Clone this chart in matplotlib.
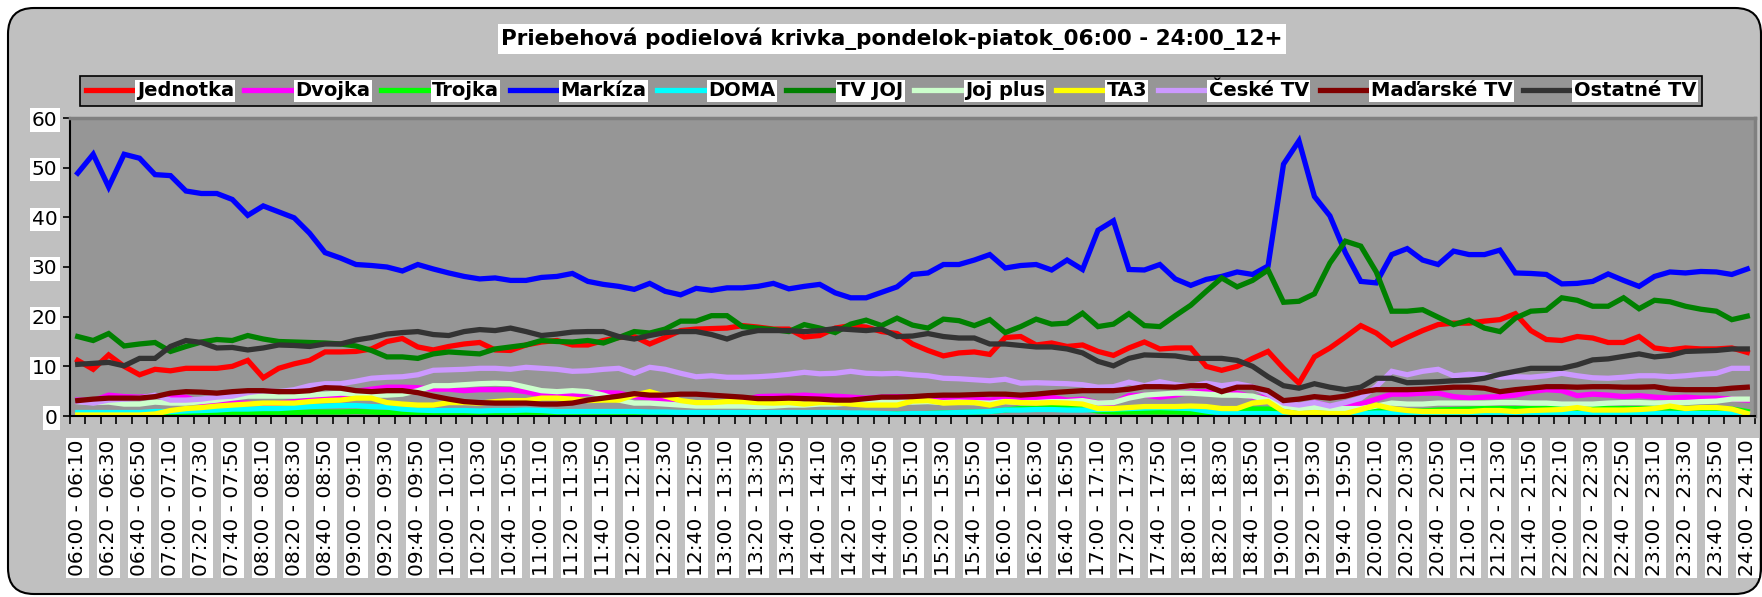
import matplotlib
matplotlib.use("Agg")
import matplotlib.pyplot as plt
from matplotlib.patches import FancyBboxPatch

W, H = 1762, 597

title = "Priebehová podielová krivka_pondelok-piatok_06:00 - 24:00_12+"

# 10-minute slots from 06:00 to 24:10
slots = []
for i in range(109):
    m = 360 + 10 * i
    slots.append("%02d:%02d - %02d:%02d" % (m // 60, m % 60, (m + 10) // 60, (m + 10) % 60))

jednotka = [11.2, 9.4, 12.3, 10.0, 8.3, 9.4, 9.1, 9.6, 9.6, 9.6, 10.0, 11.2, 7.7, 9.6, 10.5, 11.2, 12.9, 12.9, 13.0,
            13.5, 15.0, 15.6, 13.9, 13.3, 14.0, 14.5, 14.8, 13.3, 13.2, 14.3, 14.9, 15.2, 14.3, 14.3, 15.2, 15.8, 16.0,
            14.5, 15.8, 17.2, 17.5, 17.6, 17.7, 18.2, 17.9, 17.5, 17.5, 15.9, 16.2, 17.7, 18.2, 17.9, 17.0, 16.6, 14.5,
            13.2, 12.1, 12.7, 12.9, 12.4, 15.8, 16.0, 14.3, 14.7, 14.0, 14.3, 13.0, 12.2, 13.7, 14.9, 13.5, 13.7, 13.7,
            10.0, 9.2, 10.0, 11.6, 13.0, 9.6, 6.6, 11.9, 13.7, 15.9, 18.2, 16.7, 14.3, 15.8, 17.2, 18.4, 18.7, 18.7,
            19.1, 19.4, 20.6, 17.2, 15.4, 15.2, 16.0, 15.7, 14.8, 14.8, 16.0, 13.7, 13.3, 13.7, 13.5, 13.5, 13.7, 12.8]
dvojka = [3.2, 3.1, 4.2, 3.9, 3.8, 4.0, 3.8, 3.8, 2.7, 2.6, 2.6, 2.6, 2.2, 2.6, 2.9, 3.2, 3.4, 3.8, 5.0,
          5.4, 5.8, 5.8, 5.7, 5.4, 5.4, 5.1, 5.3, 5.3, 5.3, 4.9, 4.2, 4.2, 4.2, 4.6, 4.7, 4.6, 3.9,
          3.6, 3.2, 2.9, 2.6, 2.6, 2.6, 3.1, 3.9, 4.0, 4.0, 4.2, 4.0, 4.0, 3.8, 3.6, 3.8, 3.9, 3.8,
          3.4, 3.4, 3.4, 3.4, 3.2, 3.6, 3.4, 3.4, 3.8, 3.2, 3.4, 2.6, 2.6, 4.1, 4.2, 3.8, 4.2, 4.8,
          4.9, 4.4, 4.6, 3.8, 3.8, 2.6, 1.9, 2.7, 2.0, 2.2, 2.4, 3.4, 4.4, 4.4, 4.6, 4.6, 3.9, 3.6,
          3.8, 3.9, 4.2, 4.9, 5.3, 5.1, 4.1, 4.4, 4.2, 3.9, 4.1, 3.8, 3.6, 3.8, 3.6, 3.6, 3.4, 3.2]
trojka = [0.1, 0.1, 0.1, 0.1, 0.1, 0.1, 0.2, 0.3, 0.4, 0.5, 0.5, 0.6, 0.6, 0.7, 0.7, 0.8, 0.8, 0.8, 0.9,
          0.8, 0.7, 0.6, 0.6, 0.6, 0.5, 0.5, 0.5, 0.5, 0.5, 0.5, 0.5, 0.5, 0.4, 0.4, 0.4, 0.4, 0.4,
          0.4, 0.4, 0.4, 0.4, 0.4, 0.4, 0.4, 0.4, 0.4, 0.4, 0.4, 0.4, 0.4, 0.4, 0.4, 0.4, 0.4, 0.4,
          0.5, 0.6, 0.7, 0.8, 0.9, 1.2, 1.5, 1.5, 1.7, 1.7, 1.5, 1.0, 0.8, 0.8, 0.8, 0.8, 0.8, 0.7,
          0.7, 0.8, 1.2, 1.4, 1.4, 0.8, 0.5, 0.5, 0.5, 0.5, 0.8, 1.3, 1.0, 1.0, 1.0, 1.2, 1.3, 1.4,
          1.5, 1.5, 1.5, 1.5, 1.5, 1.5, 1.5, 1.5, 1.5, 1.5, 1.5, 1.6, 1.6, 1.5, 1.5, 1.5, 1.4, 0.9]
markiza = [48.9, 52.7, 46.1, 52.7, 51.9, 48.6, 48.4, 45.3, 44.8, 44.8,
           43.6, 40.4, 42.3, 41.1, 39.9, 36.8, 32.9, 31.8, 30.5, 30.3,
           30.0, 29.2, 30.5, 29.6, 28.8, 28.1, 27.6, 27.8, 27.3, 27.3,
           27.9, 28.1, 28.7, 27.1, 26.5, 26.1, 25.5, 26.7, 25.1, 24.4,
           25.7, 25.3, 25.8, 25.8, 26.1, 26.7, 25.6, 26.1, 26.5, 24.8,
           23.8, 23.8, 24.9, 26.0, 28.5, 28.8, 30.5, 30.5, 31.4, 32.5,
           29.8, 30.3, 30.5, 29.4, 31.4, 29.5, 37.4, 39.3, 29.5, 29.4,
           30.5, 27.6, 26.3, 27.5, 28.1, 29.0, 28.5, 30.2, 50.7, 55.4,
           44.2, 40.3, 32.9, 27.1, 26.8, 32.5, 33.7, 31.4, 30.5, 33.2,
           32.5, 32.5, 33.4, 28.8, 28.7, 28.5, 26.6, 26.7, 27.1, 28.6,
           27.3, 26.1, 28.1, 29.0, 28.8, 29.1, 29.0, 28.5, 29.6]
doma = [0.7, 0.7, 0.7, 0.7, 0.7, 0.9, 0.9, 1.0, 1.1, 1.2, 1.4, 1.4, 1.5, 1.5, 1.7, 1.9, 2.0, 2.1, 2.1,
        1.9, 1.8, 1.4, 1.2, 1.1, 1.1, 1.1, 1.0, 1.1, 1.1, 1.2, 1.1, 0.9, 0.9, 0.9, 0.9, 0.9, 0.9,
        0.8, 0.8, 0.7, 0.7, 0.7, 0.7, 0.7, 0.7, 0.7, 0.7, 0.7, 0.7, 0.7, 0.6, 0.6, 0.5, 0.4, 0.5,
        0.5, 0.6, 0.7, 0.8, 0.9, 1.2, 1.2, 1.3, 1.3, 1.2, 1.2, 1.3, 1.4, 1.5, 1.6, 1.7, 1.6, 1.5,
        1.0, 0.6, 0.5, 0.5, 0.5, 0.4, 0.4, 0.4, 0.4, 0.5, 0.5, 0.6, 0.6, 0.5, 0.5, 0.5, 0.5, 0.5,
        0.5, 0.5, 0.5, 0.5, 0.5, 0.5, 0.5, 0.5, 0.5, 0.5, 0.5, 0.5, 0.5, 0.5, 0.5, 0.5, 0.5, 0.4]
tv_joj = [16.0, 15.2, 16.6, 14.1, 14.5, 14.8, 13.0, 14.0, 14.9, 15.4, 15.2, 16.2, 15.5, 15.0, 14.9, 14.8, 14.7, 14.5, 14.1,
          13.2, 11.9, 11.9, 11.6, 12.5, 12.9, 12.7, 12.5, 13.5, 13.9, 14.3, 15.2, 15.0, 14.9, 15.2, 14.7, 15.8, 17.0,
          16.7, 17.5, 19.1, 19.1, 20.2, 20.2, 18.0, 17.7, 17.4, 17.0, 18.4, 17.7, 16.8, 18.5, 19.3, 18.2, 19.7, 18.3,
          17.7, 19.5, 19.2, 18.2, 19.4, 16.8, 18.0, 19.5, 18.5, 18.7, 20.7, 18.0, 18.5, 20.6, 18.2, 18.0, 20.2, 22.3,
          25.1, 27.8, 26.0, 27.3, 29.4, 22.9, 23.1, 24.6, 30.8, 35.2, 34.2, 29.0, 21.1, 21.1, 21.4, 19.9, 18.4, 19.3,
          17.7, 17.0, 19.7, 21.1, 21.3, 23.8, 23.3, 22.1, 22.1, 23.8, 21.6, 23.3, 23.0, 22.1, 21.5, 21.1, 19.4, 20.1]
joj_plus = [2.9, 2.7, 2.8, 2.4, 2.4, 2.8, 2.6, 2.6, 2.9, 3.2, 3.6, 4.0, 4.0, 4.0, 4.0, 4.2, 4.4, 4.6, 4.5,
            4.2, 4.2, 4.4, 5.1, 6.1, 6.1, 6.3, 6.5, 6.6, 6.5, 5.8, 5.1, 4.9, 5.1, 4.9, 4.2, 3.2, 2.6,
            2.6, 2.4, 2.2, 2.0, 2.0, 2.0, 2.0, 1.9, 2.0, 2.2, 2.2, 2.4, 2.4, 2.6, 2.7, 2.9, 2.9, 2.8,
            2.9, 2.7, 2.8, 2.7, 2.6, 2.9, 2.7, 2.7, 2.9, 2.9, 3.1, 2.6, 2.7, 3.6, 4.2, 4.4, 4.6, 4.6,
            4.4, 4.2, 4.2, 4.0, 3.2, 2.0, 1.5, 1.7, 1.5, 1.5, 1.5, 2.0, 2.6, 2.4, 2.4, 2.6, 2.6, 2.6,
            2.6, 2.7, 2.7, 2.6, 2.6, 2.4, 2.4, 2.4, 2.6, 2.7, 2.7, 2.6, 2.7, 2.7, 2.9, 3.0, 3.4, 3.4]
ta3 = [0.2, 0.2, 0.2, 0.2, 0.2, 0.4, 1.1, 1.5, 1.7, 2.0, 2.2, 2.4, 2.6, 2.6, 2.6, 2.9, 3.1, 3.2, 3.6,
       3.6, 2.7, 2.4, 2.2, 2.2, 2.7, 2.7, 2.6, 2.9, 3.1, 3.1, 3.6, 3.6, 3.4, 3.1, 3.2, 3.2, 4.2,
       4.9, 4.0, 3.1, 2.7, 2.7, 2.9, 2.9, 2.7, 2.6, 2.7, 2.4, 2.7, 2.7, 2.4, 2.2, 2.2, 2.2, 3.0,
       3.1, 2.6, 2.7, 2.7, 2.2, 2.9, 2.7, 2.6, 2.7, 2.6, 2.4, 1.5, 1.5, 1.7, 1.9, 1.9, 1.9, 2.0,
       1.9, 1.5, 1.5, 2.6, 2.9, 0.9, 0.5, 0.7, 0.5, 0.5, 1.3, 2.2, 1.5, 1.1, 0.9, 0.9, 0.9, 0.9,
       1.1, 1.1, 0.9, 1.1, 1.2, 1.3, 1.7, 1.2, 1.2, 1.2, 1.3, 1.5, 2.0, 1.5, 1.7, 1.7, 1.4, 0.5]
ceske = [2.9, 2.6, 3.2, 3.4, 3.6, 4.2, 3.2, 3.2, 3.4, 3.8, 4.0, 4.7, 5.1, 4.9, 5.3, 6.1, 6.5, 6.5, 7.0,
         7.6, 7.8, 7.9, 8.3, 9.2, 9.3, 9.4, 9.6, 9.6, 9.4, 9.8, 9.6, 9.4, 9.0, 9.1, 9.4, 9.6, 8.6,
         9.8, 9.4, 8.6, 7.9, 8.1, 7.8, 7.8, 7.9, 8.1, 8.4, 8.8, 8.5, 8.6, 9.0, 8.6, 8.5, 8.6, 8.3,
         8.1, 7.6, 7.5, 7.3, 7.1, 7.4, 6.6, 6.7, 6.6, 6.5, 6.3, 5.8, 5.9, 6.8, 6.1, 6.9, 6.3, 6.0,
         6.6, 6.1, 6.5, 5.9, 4.4, 2.6, 2.2, 2.7, 2.0, 2.7, 3.6, 5.9, 9.0, 8.3, 9.0, 9.4, 8.1, 8.4,
         8.3, 7.8, 7.9, 7.8, 8.1, 8.6, 8.1, 7.7, 7.6, 7.8, 8.1, 8.1, 7.9, 8.1, 8.4, 8.6, 9.6, 9.6]
madarske = [3.1, 3.4, 3.6, 3.6, 3.6, 3.9, 4.6, 4.9, 4.8, 4.6, 4.9, 5.1, 5.1, 4.9, 4.9, 5.1, 5.7, 5.6, 5.1,
            4.9, 5.1, 5.1, 4.7, 4.0, 3.4, 2.9, 2.7, 2.6, 2.6, 2.6, 2.4, 2.4, 2.6, 3.2, 3.6, 4.0, 4.5,
            4.2, 4.2, 4.4, 4.4, 4.2, 4.0, 3.8, 3.5, 3.5, 3.6, 3.5, 3.4, 3.2, 3.2, 3.5, 3.8, 3.8, 3.9,
            4.1, 4.2, 4.2, 4.3, 4.4, 4.4, 4.2, 4.4, 4.7, 4.9, 5.1, 5.1, 5.1, 5.4, 5.9, 5.9, 5.8, 6.1,
            6.1, 4.9, 5.8, 5.8, 5.1, 3.1, 3.4, 3.9, 3.6, 4.0, 4.8, 5.3, 5.3, 5.3, 5.4, 5.6, 5.8, 5.8,
            5.6, 4.9, 5.3, 5.6, 5.9, 5.9, 5.8, 5.9, 5.9, 5.8, 5.8, 5.9, 5.4, 5.3, 5.3, 5.3, 5.6, 5.8]
ostatne = [10.4, 10.6, 10.8, 10.1, 11.6, 11.6, 14.0, 15.2, 14.8, 13.7, 13.8, 13.3, 13.7, 14.3, 14.2, 14.0, 14.5, 14.5, 15.3,
           15.8, 16.5, 16.8, 17.0, 16.4, 16.2, 17.0, 17.4, 17.2, 17.7, 17.0, 16.2, 16.5, 16.9, 17.0, 17.0, 16.0, 15.5,
           16.2, 16.8, 17.0, 17.0, 16.4, 15.5, 16.6, 17.2, 17.2, 17.2, 17.0, 17.2, 17.6, 17.4, 17.2, 17.5, 16.0, 16.1,
           16.6, 16.0, 15.7, 15.7, 14.5, 14.5, 14.2, 13.9, 13.9, 13.5, 12.7, 11.0, 10.1, 11.6, 12.3, 12.2, 12.1, 11.6,
           11.6, 11.6, 11.2, 10.0, 7.9, 6.1, 5.6, 6.5, 5.8, 5.3, 5.8, 7.6, 7.6, 6.7, 6.8, 6.9, 7.1, 7.2,
           7.6, 8.4, 9.0, 9.6, 9.6, 9.6, 10.3, 11.3, 11.5, 12.0, 12.5, 11.9, 12.2, 13.0, 13.1, 13.2, 13.5, 13.5]

names = ["Jednotka", "Dvojka", "Trojka", "Markíza", "DOMA", "TV JOJ",
         "Joj plus", "TA3", "České TV", "Maďarské TV", "Ostatné TV"]
series = [jednotka, dvojka, trojka, markiza, doma, tv_joj,
          joj_plus, ta3, ceske, madarske, ostatne]
colors = ["#FF0000", "#FF00FF", "#00FF00", "#0000FF", "#00FFFF", "#008000",
          "#CCFFCC", "#FFFF00", "#CC99FF", "#800000", "#333333"]

plt.rcParams['font.family'] = ['DejaVu Sans']

fig = plt.figure(figsize=(W / 100, H / 100), dpi=100)
fig.patch.set_facecolor("white")

# rounded chart area background (pixel coordinates)
bg = fig.add_axes([0, 0, 1, 1])
bg.set_xlim(0, W)
bg.set_ylim(H, 0)
bg.axis("off")
bg.add_patch(FancyBboxPatch((8, 8), 1753, 586, boxstyle="round,pad=0,rounding_size=26",
                            facecolor="#C0C0C0", edgecolor="black", linewidth=1.5))

ax = fig.add_axes([70 / W, 1 - 416 / H, (1755 - 70) / W, (416 - 118) / H])
ax.set_facecolor("#969696")

x = list(range(len(slots)))
for name, vals, col in zip(names, series, colors):
    ax.plot(x, vals, color=col, linewidth=3.8, label=name, solid_joinstyle="miter")

ax.set_xlim(-0.5, len(slots) - 0.5)
ax.set_ylim(0, 60)
ax.set_yticks(range(0, 61, 10))
ax.tick_params(axis="y", direction="out", length=5, width=1.2, labelsize=14.5, pad=4)

ax.set_xticks([i for i in x if i % 2 == 0])
ax.set_xticklabels([s for i, s in enumerate(slots) if i % 2 == 0], rotation=90)
ax.set_xticks([i - 0.5 for i in range(len(slots) + 1)], minor=True)
ax.tick_params(axis="x", which="major", length=0, labelsize=14.5, pad=17)
ax.tick_params(axis="x", which="minor", direction="out", length=6, width=1.2)

for lab in ax.get_xticklabels() + ax.get_yticklabels():
    lab.set_bbox(dict(facecolor="white", edgecolor="none", pad=1.5))

ax.spines["left"].set_color("black")
ax.spines["bottom"].set_color("black")
ax.spines["left"].set_linewidth(1.5)
ax.spines["bottom"].set_linewidth(1.5)
for s in ("top", "right"):
    ax.spines[s].set_color("#808080")
    ax.spines[s].set_linewidth(2.5)

fig.text(892 / W, 1 - 39 / H, title, ha="center", va="center", fontsize=15.5,
         fontweight="bold", bbox=dict(facecolor="white", edgecolor="none", pad=2.5))

leg = fig.legend(loc="center", bbox_to_anchor=(891 / W, 1 - 91 / H), ncol=11,
                 prop={"weight": "bold", "size": 14.0},
                 handlelength=2.4, handletextpad=0.22, columnspacing=0.55,
                 frameon=True, fancybox=False, borderpad=0.28, borderaxespad=0)
leg.get_frame().set_facecolor("#969696")
leg.get_frame().set_edgecolor("black")
leg.get_frame().set_linewidth(1.2)
leg.get_frame().set_alpha(1)
for t in leg.get_texts():
    t.set_bbox(dict(facecolor="white", edgecolor="none", pad=1))

fig.savefig("out.png", dpi=100)
